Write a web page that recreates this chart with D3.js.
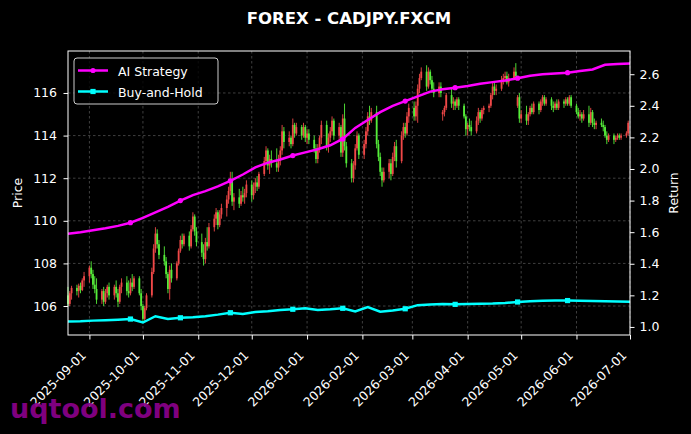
<!DOCTYPE html>
<html>
<head>
<meta charset="utf-8">
<script src="https://cdn.jsdelivr.net/npm/d3@7"></script>
<style>
    body {margin: 0; background: #000;}
    svg {display: block; font-family: "DejaVu Sans", sans-serif;}
</style>
</head>
<body>
<svg id="chart" width="691" height="434"></svg>
<script>
// trading days run on weekdays between these two dates
const firstDay = '2025-08-20'
const lastDay = '2026-06-30'

// daily candles, one line per month (Aug .. Jun)
const openPx = [
    106.50,106.10,106.60,106.85,106.70,106.95,106.75,107.20,
    107.40,107.80,107.50,107.00,106.80,106.30,106.70,106.20,106.60,106.90,106.50,106.90,106.60,106.20,106.90,107.10,106.70,106.60,107.10,106.90,107.30,106.60,
    106.00,105.40,105.90,106.50,107.60,108.70,109.40,108.90,108.40,108.10,107.50,106.80,107.70,107.30,108.00,108.60,109.10,108.90,109.30,108.80,109.60,110.20,109.50,
    109.00,108.50,108.20,109.00,108.80,109.70,110.10,110.40,109.80,110.30,110.60,111.00,111.40,111.90,110.90,111.10,110.80,111.20,111.10,111.30,
    111.70,111.20,111.60,111.80,111.60,112.20,112.80,113.30,112.60,112.90,112.70,112.50,112.90,113.30,114.20,113.70,113.90,113.60,114.50,114.10,114.40,114.00,114.40,
    113.90,114.10,113.80,113.40,112.90,113.40,113.90,114.50,113.50,113.90,114.20,114.70,114.00,114.40,113.20,114.80,113.50,112.70,112.00,112.60,113.40,114.00,
    113.10,113.60,114.20,114.90,114.70,115.10,113.60,113.00,112.30,111.90,112.30,112.70,112.20,113.00,113.50,112.80,114.00,114.40,114.10,114.90,
    115.30,114.90,115.40,116.20,116.70,117.00,116.30,117.00,116.60,116.20,116.00,116.30,115.00,115.10,115.30,115.90,115.50,115.60,115.40,115.70,115.40,114.90,
    114.30,114.50,114.40,114.20,114.70,115.10,114.80,115.20,115.30,115.40,115.90,116.30,116.10,116.20,116.60,116.70,116.80,116.50,116.70,117.00,115.40,115.80,
    114.80,115.00,114.70,115.00,115.30,115.10,115.50,115.20,115.60,115.80,115.50,115.70,115.40,115.30,115.50,115.30,115.60,115.50,115.70,115.50,115.80,
    115.40,115.10,114.90,115.00,114.80,115.00,114.60,115.10,114.60,114.50,114.60,114.50,114.40,114.00,113.80,114.00,113.80,113.90,114.00,113.90,114.00,114.10
]
const highPx = [
    106.90,106.70,106.95,107.00,107.05,107.10,107.30,107.60,
    107.90,108.10,107.70,107.40,107.30,106.80,106.90,106.80,107.00,107.10,107.00,107.20,106.80,107.00,107.30,107.40,107.20,107.30,107.50,107.40,107.40,106.80,
    106.10,106.00,106.60,107.80,108.90,109.70,109.60,109.10,108.80,108.30,107.60,107.90,108.00,108.10,108.70,109.30,109.40,109.40,109.50,109.80,110.40,110.30,109.70,
    109.40,108.90,109.20,109.70,109.90,110.30,110.60,110.50,110.50,110.80,111.20,111.60,112.30,112.30,111.30,111.50,111.40,111.60,111.50,111.90,
    111.90,111.80,112.00,112.10,112.30,113.00,113.50,113.40,113.10,113.30,113.40,113.10,113.50,114.50,114.40,114.20,114.00,114.80,114.60,114.60,114.50,114.60,114.50,
    114.30,114.30,114.00,113.60,113.60,114.00,114.70,114.70,114.10,114.40,114.90,114.80,114.60,114.50,115.00,115.50,113.70,112.90,112.80,113.60,114.20,114.10,
    113.80,114.40,115.10,115.40,115.30,115.40,113.80,113.20,112.50,112.50,112.90,112.90,113.20,113.70,113.80,114.20,114.60,114.60,115.10,115.50,
    115.60,115.60,116.40,116.90,117.20,117.30,117.20,117.10,116.80,116.50,116.50,116.50,115.20,115.40,116.00,116.20,115.80,115.70,115.80,115.80,115.50,115.00,
    114.60,114.80,114.70,114.90,115.30,115.20,115.30,115.40,115.50,116.00,116.50,116.50,116.40,116.80,116.90,117.00,117.00,116.90,117.20,117.40,115.90,116.00,
    115.20,115.40,115.10,115.40,115.50,115.60,115.60,115.70,115.90,115.90,115.80,115.80,115.60,115.60,115.70,115.70,115.70,115.80,115.80,115.90,115.90,
    115.50,115.30,115.20,115.10,115.20,115.40,115.30,115.20,114.80,114.70,114.80,114.70,114.50,114.20,114.10,114.10,114.00,114.10,114.10,114.10,114.20,114.70
]
const lowPx = [
    106.00,106.00,106.30,106.50,106.40,106.60,106.70,106.90,
    107.10,107.30,106.80,106.60,106.10,106.10,106.00,106.10,106.40,106.30,106.30,106.40,105.95,106.10,106.60,106.50,106.40,106.50,106.70,106.80,106.50,105.80,
    105.20,105.30,105.80,106.40,107.50,108.50,108.70,108.20,107.90,107.30,106.60,106.30,107.10,107.20,107.90,108.50,108.70,108.80,108.60,108.70,109.50,109.30,108.80,
    108.30,107.90,108.00,108.60,108.70,109.50,109.80,109.60,109.70,110.10,110.20,110.80,111.20,110.70,110.50,110.60,110.70,110.90,110.80,111.10,
    110.90,111.00,111.30,111.40,111.50,112.10,112.60,112.40,112.20,112.50,112.30,112.30,112.60,113.10,113.40,113.50,113.40,113.50,113.90,114.00,113.80,113.90,113.70,
    113.60,113.60,113.20,112.70,112.70,113.20,113.60,113.30,113.20,113.70,114.00,113.80,113.70,113.00,113.00,113.30,112.50,111.80,111.80,112.40,113.30,112.90,
    112.90,113.40,114.00,114.50,114.60,113.40,112.80,112.10,111.60,111.80,112.00,111.90,112.10,112.80,112.50,112.70,113.80,113.90,114.00,114.60,
    114.70,114.70,114.60,116.00,116.60,116.10,116.20,116.40,116.00,115.80,115.80,115.80,114.70,114.90,115.20,115.30,115.20,115.20,115.30,115.20,114.80,114.00,
    114.00,114.20,114.00,114.10,114.50,114.60,114.70,115.00,115.10,115.30,115.70,115.90,115.90,116.10,116.40,116.50,116.40,116.30,116.60,116.60,115.30,114.60,
    114.60,114.50,114.50,114.90,115.00,115.00,115.00,115.10,115.40,115.40,115.40,115.20,115.10,115.20,115.20,115.20,115.30,115.40,115.40,115.40,115.30,
    115.00,114.80,114.70,114.60,114.70,114.40,114.50,114.40,114.30,114.30,114.40,114.20,113.90,113.60,113.70,113.60,113.70,113.80,113.80,113.80,113.90,114.00
]
const closePx = [
    106.10,106.60,106.85,106.70,106.95,106.75,107.20,107.40,
    107.80,107.50,107.00,106.80,106.30,106.70,106.20,106.60,106.90,106.50,106.90,106.60,106.20,106.90,107.10,106.70,106.60,107.10,106.90,107.30,106.60,106.00,
    105.40,105.90,106.50,107.60,108.70,109.40,108.90,108.40,108.10,107.50,106.80,107.70,107.30,108.00,108.60,109.10,108.90,109.30,108.80,109.60,110.20,109.50,109.00,
    108.50,108.20,109.00,108.80,109.70,110.10,110.40,109.80,110.30,110.60,111.00,111.40,111.90,110.90,111.10,110.80,111.20,111.10,111.30,111.70,
    111.20,111.60,111.80,111.60,112.20,112.80,113.30,112.60,112.90,112.70,112.50,112.90,113.30,114.20,113.70,113.90,113.60,114.50,114.10,114.40,114.00,114.40,113.90,
    114.10,113.80,113.40,112.90,113.40,113.90,114.50,113.50,113.90,114.20,114.70,114.00,114.40,113.20,114.80,113.50,112.70,112.00,112.60,113.40,114.00,113.10,
    113.60,114.20,114.90,114.70,115.10,113.60,113.00,112.30,111.90,112.30,112.70,112.20,113.00,113.50,112.80,114.00,114.40,114.10,114.90,115.30,
    114.90,115.40,116.20,116.70,117.00,116.30,117.00,116.60,116.20,116.00,116.30,116.00,115.10,115.30,115.90,115.50,115.60,115.40,115.70,115.40,114.90,114.30,
    114.50,114.40,114.20,114.70,115.10,114.80,115.20,115.30,115.40,115.90,116.30,116.10,116.20,116.60,116.70,116.80,116.50,116.70,117.00,116.80,115.80,114.80,
    115.00,114.70,115.00,115.30,115.10,115.50,115.20,115.60,115.80,115.50,115.70,115.40,115.30,115.50,115.30,115.60,115.50,115.70,115.50,115.80,115.40,
    115.10,114.90,115.00,114.80,115.00,114.60,115.10,114.60,114.50,114.60,114.50,114.40,114.00,113.80,114.00,113.80,113.90,114.00,113.90,114.00,114.10,114.60
]

// cumulative return, one value per week starting at firstDay
const aiStrategy = [1.590,1.600,1.612,1.625,1.640,1.660,1.690,1.725,1.760,1.800,1.835,1.860,1.890,1.925,1.965,2.010,
    2.040,2.060,2.085,2.105,2.125,2.150,2.190,2.260,2.310,2.360,2.400,2.430,2.460,2.490,2.505,2.515,
    2.525,2.540,2.550,2.560,2.575,2.590,2.600,2.605,2.610,2.620,2.630,2.660,2.665,2.668]
const buyHold = [1.034,1.036,1.040,1.043,1.046,1.050,1.028,1.068,1.050,1.058,1.062,1.068,1.078,1.090,1.082,1.095,
    1.100,1.108,1.112,1.118,1.108,1.112,1.118,1.098,1.126,1.097,1.104,1.115,1.138,1.142,1.146,1.143,
    1.145,1.147,1.148,1.152,1.158,1.162,1.166,1.167,1.167,1.166,1.165,1.163,1.161,1.160]
const markerDays = ['2025-09-21','2025-10-22','2025-11-21','2025-12-22','2026-01-22','2026-02-23','2026-03-28','2026-04-27','2026-05-28']

const xTicks = ['2025-09-01','2025-10-01','2025-11-01','2025-12-01','2026-01-01','2026-02-01',
    '2026-03-01','2026-04-01','2026-05-01','2026-06-01','2026-07-01']
const priceTicks = [106, 108, 110, 112, 114, 116]
const returnTicks = [1.0, 1.2, 1.4, 1.6, 1.8, 2.0, 2.2, 2.4, 2.6]

const parse = d3.timeParse('%Y-%m-%d')
const days = d3.timeDay.range(parse(firstDay), d3.timeDay.offset(parse(lastDay), 1))
    .filter(d => d.getDay() % 6 !== 0)
const candles = days.map((d, i) => ({date: d, o: openPx[i], h: highPx[i], l: lowPx[i], c: closePx[i]}))
const weeks = aiStrategy.map((v, i) => d3.timeDay.offset(parse(firstDay), 7 * i))
const aiData = aiStrategy.map((v, i) => ({date: weeks[i], v: v}))
const bhData = buyHold.map((v, i) => ({date: weeks[i], v: v}))

const margin = {top: 51, right: 61, bottom: 99, left: 68}
const W = 691, H = 434
const width = W - margin.left - margin.right
const height = H - margin.top - margin.bottom

const x = d3.scaleTime()
    .domain([parse('2025-08-20'), parse('2026-07-01')])
    .range([margin.left, margin.left + width])
const yPrice = d3.scaleLinear()
    .domain([104.64, 117.97])
    .range([margin.top + height, margin.top])
const yRet = d3.scaleLinear()
    .domain([0.949, 2.747])
    .range([margin.top + height, margin.top])

const svg = d3.select('#chart')
svg.append('rect').attr('width', W).attr('height', H).attr('fill', '#000')

// grid
const grid = svg.append('g')
    .attr('stroke', '#5a5a5a')
    .attr('stroke-width', 0.7)
    .attr('stroke-dasharray', '2.5,2.5')
grid.selectAll('.vg').data(xTicks).join('line')
    .attr('x1', d => x(parse(d))).attr('x2', d => x(parse(d)))
    .attr('y1', margin.top).attr('y2', margin.top + height)
grid.selectAll('.hg').data(priceTicks).join('line')
    .attr('x1', margin.left).attr('x2', margin.left + width)
    .attr('y1', d => yPrice(d)).attr('y2', d => yPrice(d))

// candles: red up, green down
const up = '#f04848', down = '#55ee3a'
const cg = svg.append('g')
cg.selectAll('line').data(candles).join('line')
    .attr('x1', d => x(d.date)).attr('x2', d => x(d.date))
    .attr('y1', d => yPrice(d.h)).attr('y2', d => yPrice(d.l))
    .attr('stroke', d => d.c >= d.o ? up : down)
    .attr('stroke-width', 0.9)
cg.selectAll('rect').data(candles).join('rect')
    .attr('x', d => x(d.date) - 0.9)
    .attr('width', 1.8)
    .attr('y', d => yPrice(Math.max(d.o, d.c)))
    .attr('height', d => Math.max(0.8, Math.abs(yPrice(d.o) - yPrice(d.c))))
    .attr('fill', d => d.c >= d.o ? up : down)

// return lines
const line = d3.line().x(d => x(d.date)).y(d => yRet(d.v))
const nearest = (data, day) => {
    const t = parse(day)
    return data.reduce((a, b) => Math.abs(b.date - t) < Math.abs(a.date - t) ? b : a)
}
svg.append('path').datum(aiData)
    .attr('d', line).attr('fill', 'none')
    .attr('stroke', '#ff00ff').attr('stroke-width', 2.5)
svg.append('g').selectAll('circle').data(markerDays.map(d => nearest(aiData, d))).join('circle')
    .attr('cx', d => x(d.date)).attr('cy', d => yRet(d.v)).attr('r', 2.6)
    .attr('fill', '#ff00ff')
svg.append('path').datum(bhData)
    .attr('d', line).attr('fill', 'none')
    .attr('stroke', '#00ffff').attr('stroke-width', 2.5)
svg.append('g').selectAll('rect').data(markerDays.map(d => nearest(bhData, d))).join('rect')
    .attr('x', d => x(d.date) - 2.6).attr('y', d => yRet(d.v) - 2.6)
    .attr('width', 5.2).attr('height', 5.2)
    .attr('fill', '#00ffff')

// frame
svg.append('rect')
    .attr('x', margin.left).attr('y', margin.top)
    .attr('width', width).attr('height', height)
    .attr('fill', 'none').attr('stroke', '#fff').attr('stroke-width', 1)

// axes
const styleAxis = g => {
    g.select('.domain').remove()
    g.selectAll('.tick line').attr('stroke', '#fff')
    g.selectAll('.tick text').attr('fill', '#fff').style('font-size', '12.5px')
        .style('font-family', '"DejaVu Sans", sans-serif')
}
svg.append('g')
    .attr('transform', `translate(${margin.left},0)`)
    .call(d3.axisLeft(yPrice).tickValues(priceTicks).tickSize(4.5).tickPadding(6.5))
    .call(styleAxis)
svg.append('g')
    .attr('transform', `translate(${margin.left + width},0)`)
    .call(d3.axisRight(yRet).tickValues(returnTicks).tickFormat(d3.format('.1f')).tickSize(4.5).tickPadding(5))
    .call(styleAxis)
const xg = svg.append('g')
    .attr('transform', `translate(0,${margin.top + height})`)
    .call(d3.axisBottom(x).tickValues(xTicks.map(parse)).tickFormat(d3.timeFormat('%Y-%m-%d')).tickSize(4.5))
    .call(styleAxis)
xg.selectAll('.tick text')
    .attr('x', 0).attr('y', 0).attr('dy', 0)
    .attr('transform', 'translate(-3,21) rotate(-45)')
    .style('text-anchor', 'end')

// labels
svg.append('text')
    .attr('x', (margin.left + margin.left + width) / 2).attr('y', 24)
    .attr('text-anchor', 'middle').attr('fill', '#fff')
    .style('font-size', '16.5px').style('font-weight', 'bold')
    .text('FOREX - CADJPY.FXCM')
svg.append('text')
    .attr('transform', `translate(22,${margin.top + height / 2}) rotate(-90)`)
    .attr('text-anchor', 'middle').attr('fill', '#fff').style('font-size', '12.5px')
    .text('Price')
svg.append('text')
    .attr('transform', `translate(678,${margin.top + height / 2}) rotate(-90)`)
    .attr('text-anchor', 'middle').attr('fill', '#fff').style('font-size', '12.5px')
    .text('Return')

// legend
const legend = svg.append('g').attr('transform', 'translate(74,58)')
legend.append('rect')
    .attr('width', 144).attr('height', 46).attr('rx', 3)
    .attr('fill', '#000').attr('fill-opacity', 0.8)
    .attr('stroke', '#cccccc').attr('stroke-width', 1)
const entries = [
    {name: 'AI Strategy', color: '#ff00ff', shape: 'circle'},
    {name: 'Buy-and-Hold', color: '#00ffff', shape: 'square'}
]
entries.forEach((e, i) => {
    const cy = 12.5 + 21 * i
    legend.append('line')
        .attr('x1', 4).attr('x2', 34).attr('y1', cy).attr('y2', cy)
        .attr('stroke', e.color).attr('stroke-width', 2.5)
    if (e.shape === 'circle') {
        legend.append('circle').attr('cx', 19).attr('cy', cy).attr('r', 2.6).attr('fill', e.color)
    } else {
        legend.append('rect').attr('x', 16.4).attr('y', cy - 2.6).attr('width', 5.2).attr('height', 5.2).attr('fill', e.color)
    }
    legend.append('text')
        .attr('x', 44).attr('y', cy + 5)
        .attr('fill', '#fff').style('font-size', '12.5px')
        .text(e.name)
})

// watermark
svg.append('text')
    .attr('x', 10).attr('y', 418)
    .attr('fill', '#880088').attr('fill-opacity', 0.95)
    .style('font-size', '27px').style('font-weight', 'bold')
    .text('uqtool.com')
</script>
</body>
</html>
